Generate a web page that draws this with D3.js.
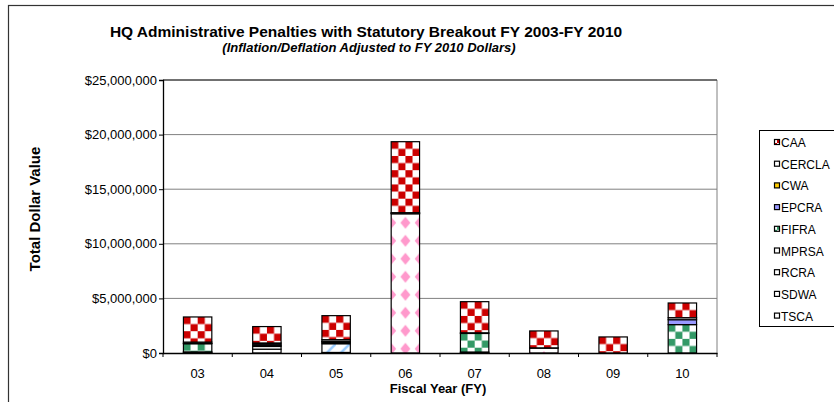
<!DOCTYPE html>
<html>
<head>
<meta charset="utf-8">
<script src="https://cdn.jsdelivr.net/npm/d3@7"></script>
<style>
  body { margin: 0; background: #fff; }
  text { font-family: "Liberation Sans", Arial, sans-serif; }
</style>
</head>
<body>
<svg id="chart"></svg>
<script>
// fiscal years and penalty amounts by statute (dollars, FY 2010 adjusted)
var years  = ["03", "04", "05", "06", "07", "08", "09", "10"];
var CAA    = [2300000, 1500000, 2200000, 6500000, 2850000, 1550000, 1470000, 1350000];
var CERCLA = [120000, 100000, 150000, 50000, 60000, 20000, 0, 180000];
var CWA    = [0, 0, 0, 0, 0, 0, 0, 0];
var EPCRA  = [30000, 120000, 20000, 0, 0, 0, 0, 450000];
var FIFRA  = [750000, 100000, 100000, 0, 1700000, 0, 0, 2600000];
var MPRSA  = [0, 0, 0, 0, 0, 0, 0, 0];
var RCRA   = [50000, 250000, 100000, 50000, 50000, 0, 0, 0];
var SDWA   = [0, 0, 800000, 0, 0, 0, 0, 0];
var TSCA   = [50000, 350000, 50000, 12750000, 40000, 450000, 0, 0];
var yTicks = [0, 5000000, 10000000, 15000000, 20000000, 25000000];

var legendNames = ["CAA", "CERCLA", "CWA", "EPCRA", "FIFRA", "MPRSA", "RCRA", "SDWA", "TSCA"];
var stackOrder = ["TSCA", "SDWA", "RCRA", "MPRSA", "FIFRA", "EPCRA", "CWA", "CERCLA", "CAA"];
var seriesData = {CAA:CAA, CERCLA:CERCLA, CWA:CWA, EPCRA:EPCRA, FIFRA:FIFRA, MPRSA:MPRSA, RCRA:RCRA, SDWA:SDWA, TSCA:TSCA};

var screen = {width: 834, height: 402};
var plot = {left: 163, right: 717, top: 80, bottom: 353};
var font = "'Liberation Sans', Arial, sans-serif";

var svg = d3.select("#chart")
    .attr("width", screen.width)
    .attr("height", screen.height);

var defs = svg.append("defs");

// checker pattern anchored at (x0, y0)
var checker = function(id, color, size, x0, y0) {
    var p = defs.append("pattern").attr("id", id)
        .attr("patternUnits", "userSpaceOnUse")
        .attr("x", x0).attr("y", y0)
        .attr("width", size * 2).attr("height", size * 2);
    p.append("rect").attr("width", size * 2).attr("height", size * 2).attr("fill", "#fff");
    p.append("rect").attr("width", size).attr("height", size).attr("fill", color);
    p.append("rect").attr("x", size).attr("y", size).attr("width", size).attr("height", size).attr("fill", color);
};
var diamonds = function(id, x0, y0) {
    var p = defs.append("pattern").attr("id", id)
        .attr("patternUnits", "userSpaceOnUse")
        .attr("x", x0).attr("y", y0)
        .attr("width", 14.25).attr("height", 18);
    p.append("rect").attr("width", 14.25).attr("height", 18).attr("fill", "#fff");
    var d = "M0,3 L5,9 L0,15 L-5,9 Z M14.25,3 L19.25,9 L14.25,15 L9.25,9 Z";
    p.append("path").attr("d", d).attr("fill", "#ff99cc");
};
var diagonal = function(id, x0, y0) {
    var p = defs.append("pattern").attr("id", id)
        .attr("patternUnits", "userSpaceOnUse")
        .attr("x", x0).attr("y", y0)
        .attr("width", 14).attr("height", 14);
    p.append("rect").attr("width", 14).attr("height", 14).attr("fill", "#fff");
    p.append("path").attr("d", "M0,14 L14,0").attr("stroke", "#99ccff").attr("stroke-width", 2.5);
};
checker("pCAAs", "#cc0000", 3, 0, 0);
checker("pFIFRAs", "#339966", 3, 0, 0);

var solidFills = {CERCLA: "#ffffff", CWA: "#ffcc00", EPCRA: "#9999ff", MPRSA: "#ffffff", RCRA: "#ffffff"};
var legendFills = {
    CAA: "url(#pCAAs)", CERCLA: "#ffffff", CWA: "#ffcc00", EPCRA: "#9999ff",
    FIFRA: "url(#pFIFRAs)", MPRSA: "#ffffff", RCRA: "#ffffff", SDWA: "#ffffff", TSCA: "#ffffff"
};

// outer border
svg.append("rect")
    .attr("x", 8.5).attr("y", 5.5)
    .attr("width", 840).attr("height", 410)
    .attr("fill", "none").attr("stroke", "#333").attr("stroke-width", 1.2);

// titles
svg.append("text")
    .attr("x", 366).attr("y", 37)
    .attr("text-anchor", "middle")
    .style("font-size", "15.5px").style("font-weight", "bold")
    .text("HQ Administrative Penalties with Statutory Breakout FY 2003-FY 2010");
svg.append("text")
    .attr("x", 369).attr("y", 52)
    .attr("text-anchor", "middle")
    .style("font-size", "13px").style("font-weight", "bold").style("font-style", "italic")
    .text("(Inflation/Deflation Adjusted to FY 2010 Dollars)");

var xScale = d3.scaleBand()
    .domain(years)
    .range([plot.left, plot.right])
    .paddingInner(0.59)
    .paddingOuter(0.295);

var yScale = d3.scaleLinear()
    .domain([0, 25000000])
    .range([plot.bottom, plot.top]);

// gridlines
svg.append("g")
    .selectAll("line")
    .data(yTicks.slice(1))
    .enter()
    .append("line")
    .attr("x1", plot.left).attr("x2", plot.right)
    .attr("y1", function(d) { return yScale(d); })
    .attr("y2", function(d) { return yScale(d); })
    .attr("stroke", "#808080").attr("stroke-width", 1);

svg.append("line")
    .attr("x1", plot.right).attr("x2", plot.right)
    .attr("y1", plot.top).attr("y2", plot.bottom)
    .attr("stroke", "#808080");
svg.append("line")
    .attr("x1", plot.left).attr("x2", plot.right)
    .attr("y1", plot.top).attr("y2", plot.top)
    .attr("stroke", "#222");

// stacked bars
var table = years.map(function(y, i) {
    var row = {year: y};
    stackOrder.forEach(function(k) { row[k] = seriesData[k][i]; });
    return row;
});
var stacked = d3.stack().keys(stackOrder)(table);

var segFill = function(key, d, i) {
    if (solidFills[key]) return solidFills[key];
    var x0 = xScale(d.data.year), y0 = yScale(d[1]);
    var id = "p" + key + i;
    if (key == "CAA") checker(id, "#cc0000", 7.125, x0, y0);
    if (key == "FIFRA") checker(id, "#339966", 7.125, x0, y0);
    if (key == "TSCA") diamonds(id, x0, y0);
    if (key == "SDWA") diagonal(id, x0, y0);
    return "url(#" + id + ")";
};

svg.append("g")
    .selectAll("g")
    .data(stacked)
    .enter()
    .append("g")
    .each(function(s) {
        d3.select(this)
            .selectAll("rect")
            .data(s.filter(function(d) { return d[1] - d[0] > 0; }))
            .enter()
            .append("rect")
            .attr("x", function(d) { return xScale(d.data.year); })
            .attr("width", xScale.bandwidth())
            .attr("y", function(d) { return yScale(d[1]); })
            .attr("height", function(d) { return yScale(d[0]) - yScale(d[1]); })
            .attr("fill", function(d, i) { return segFill(s.key, d, i); })
            .attr("stroke", "#000")
            .attr("stroke-width", 1.2);
    });

// axes
var yAxis = d3.axisLeft(yScale)
    .tickValues(yTicks)
    .tickSize(4)
    .tickFormat(function(d) { return "$" + d3.format(",")(d); });
var yG = svg.append("g")
    .attr("transform", "translate(" + plot.left + ",0)")
    .call(yAxis);
yG.attr("font-family", null);
yG.select(".domain").attr("stroke", "#000").attr("stroke-width", 1.3);
yG.selectAll("text").style("font-size", "13px").style("font-family", font).attr("fill", "#000").attr("x", -6);

var xAxis = d3.axisBottom(xScale).tickSize(0).tickSizeOuter(0);
var xG = svg.append("g")
    .attr("transform", "translate(0," + plot.bottom + ")")
    .call(xAxis);
xG.attr("font-family", null);
xG.select(".domain").attr("stroke", "#000").attr("stroke-width", 1.3);
xG.selectAll("text").style("font-size", "13px").style("font-family", font).attr("fill", "#000").attr("y", 25).attr("dy", 0);

// tick marks between categories
var step = xScale.step();
xG.append("g")
    .selectAll("line")
    .data(years.concat(["end"]))
    .enter()
    .append("line")
    .attr("x1", function(d, i) { return plot.left + i * step; })
    .attr("x2", function(d, i) { return plot.left + i * step; })
    .attr("y1", 0).attr("y2", 4)
    .attr("stroke", "#000");

// axis titles
svg.append("text")
    .attr("transform", "translate(40,209) rotate(-90)")
    .attr("text-anchor", "middle")
    .style("font-size", "15px").style("font-weight", "bold")
    .text("Total Dollar Value");
svg.append("text")
    .attr("x", 438).attr("y", 393)
    .attr("text-anchor", "middle")
    .style("font-size", "13px").style("font-weight", "bold")
    .text("Fiscal Year (FY)");

// legend
var legend = svg.append("g");
legend.append("rect")
    .attr("x", 759.5).attr("y", 130.5)
    .attr("width", 80).attr("height", 196)
    .attr("fill", "#fff").attr("stroke", "#000");
var items = legend.selectAll("g.item")
    .data(legendNames)
    .enter()
    .append("g")
    .attr("class", "item")
    .attr("transform", function(d, i) { return "translate(774," + (143 + i * 21.7) + ")"; });
items.append("rect")
    .attr("x", 0.5).attr("y", -3.5)
    .attr("width", 5).attr("height", 5)
    .attr("fill", function(d) { return legendFills[d]; })
    .attr("stroke", "#000").attr("stroke-width", 1.2);
items.append("text")
    .attr("x", 7).attr("y", 4)
    .style("font-size", "12px")
    .text(function(d) { return d; });
</script>
</body>
</html>
